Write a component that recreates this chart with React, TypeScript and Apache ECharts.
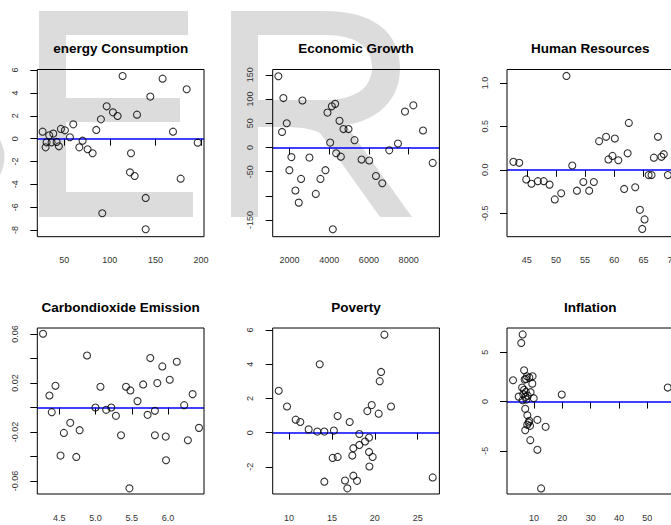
import React, { useEffect, useRef } from "react";
import * as echarts from "echarts";

// ---- data ----
const titles = ["energy Consumption", "Economic Growth", "Human Resources", "Carbondioxide Emission", "Poverty", "Inflation"];

const energyX = [26.2, 29.5, 30.6, 33.5, 36.1, 37.9, 41.6, 44.1, 46.3, 50.7, 56.2, 59.9, 66.5, 70.1, 75.6, 81.1, 85.1, 90.2, 91.7, 96.5, 103.4, 108.5, 114.0, 123.2, 122.1, 127.2, 129.8, 139.3, 139.3, 144.4, 157.9, 169.3, 177.7, 184.3, 196.4];
const energyY = [0.61, -0.76, -0.32, 0.29, -0.32, 0.44, -0.29, -0.67, 0.85, 0.73, 0.12, 1.25, -0.76, -0.18, -0.93, -1.28, 0.76, 1.69, -6.53, 2.83, 2.30, 1.98, 5.48, -1.28, -2.95, -3.27, 2.10, -5.19, -7.93, 3.68, 5.25, 0.61, -3.50, 4.32, -0.35];

const econX = [1445, 1630, 1697, 1866, 2000, 2101, 2303, 2471, 2588, 2656, 3009, 3328, 3563, 3815, 3916, 4051, 4135, 4185, 4303, 4353, 4521, 4589, 4723, 4975, 5278, 5631, 6017, 6354, 6673, 7026, 7463, 7816, 8237, 8724, 9211];
const econY = [147, 32, 102, 50, -47, -20, -89, -114, -65, 97, -21, -96, -65, -47, 72, 10, 85, -169, 90, -12, 55, -19, 38, 38, 15, -25, -27, -59, -74, -6, 8, 74, 87, 35, -32];

const hrX = [42.7, 43.7, 44.9, 45.8, 46.9, 47.9, 48.9, 49.8, 50.9, 51.8, 52.8, 53.6, 54.7, 55.7, 56.5, 57.4, 58.6, 59.0, 59.7, 60.1, 60.7, 61.7, 62.3, 62.5, 63.6, 64.4, 64.8, 65.2, 65.9, 66.4, 66.8, 67.5, 68.1, 68.5, 69.2];
const hrY = [0.092, 0.081, -0.11, -0.16, -0.13, -0.13, -0.17, -0.34, -0.27, 1.08, 0.05, -0.24, -0.14, -0.24, -0.14, 0.33, 0.38, 0.12, 0.16, 0.36, 0.11, -0.22, 0.19, 0.54, -0.20, -0.46, -0.68, -0.57, -0.06, -0.06, 0.14, 0.38, 0.15, 0.18, -0.06];

const co2X = [4.278, 4.366, 4.398, 4.449, 4.519, 4.565, 4.653, 4.736, 4.782, 4.884, 5.0, 5.069, 5.148, 5.218, 5.282, 5.352, 5.421, 5.481, 5.468, 5.579, 5.657, 5.718, 5.755, 5.819, 5.819, 5.852, 5.921, 5.968, 5.972, 6.023, 6.12, 6.222, 6.273, 6.338, 6.426];
const co2Y = [0.0601, 0.0098, -0.0038, 0.0177, -0.0392, -0.0207, -0.0125, -0.0403, -0.0185, 0.0424, 0.0, 0.0169, -0.0019, 0.0, -0.0068, -0.0226, 0.0169, 0.0139, -0.0659, 0.0052, 0.0188, -0.006, 0.0403, -0.0027, -0.0226, 0.0199, 0.0335, -0.0237, -0.043, 0.0226, 0.0373, 0.0019, -0.0267, 0.0109, -0.0166];

const povX = [8.80, 9.77, 10.78, 11.32, 12.29, 13.30, 13.58, 14.12, 14.12, 15.23, 15.09, 15.67, 15.67, 16.53, 16.80, 17.07, 17.38, 17.50, 17.50, 17.93, 18.20, 18.20, 18.86, 19.13, 19.33, 19.33, 19.37, 19.64, 19.75, 20.45, 20.57, 20.73, 21.12, 21.89, 26.75];
const povY = [2.45, 1.53, 0.76, 0.62, 0.19, 0.06, 4.0, 0.06, -2.87, 0.12, -1.48, -1.42, 0.97, -2.80, -3.26, 0.62, -1.34, -0.91, -2.52, -2.82, -0.08, -0.72, -0.52, 1.26, -0.29, -1.13, -1.98, 1.61, -1.42, 1.11, 3.01, 3.55, 5.73, 1.53, -2.62];

const infX = [2.6, 4.6, 5.5, 6.0, 5.8, 6.0, 6.5, 6.9, 6.9, 7.1, 6.7, 7.2, 7.5, 7.3, 7.65, 8.1, 8.35, 8.6, 8.35, 8.7, 8.8, 9.5, 9.4, 9.9, 11.2, 11.2, 12.5, 14.1, 19.8, 57.2, 6.2, 7.0, 6.5, 7.6, 7.8];
const infY = [2.16, 0.5, 5.95, 6.82, 1.42, 0.14, 3.18, -0.74, -2.91, 0.98, 2.23, 2.30, 2.57, 0.20, -1.39, -2.13, 2.43, -2.47, -1.96, -3.92, 0.95, 2.57, 1.82, 0.34, -1.86, -4.9, -8.82, -2.57, 0.71, 1.42, 0.74, 0.47, 1.2, -2.35, 0.6];

const xTicks = [[50, 100, 150, 200], [2000, 4000, 6000, 8000], [45, 50, 55, 60, 65, 70], [4.5, 5.0, 5.5, 6.0, 6.5], [10, 15, 20, 25], [10, 20, 30, 40, 50]];
const yTicks = [[-8, -6, -4, -2, 0, 2, 4, 6], [-150, -100, -50, 0, 50, 100, 150], [-0.5, 0, 0.5, 1.0], [-0.06, -0.04, -0.02, 0, 0.02, 0.04, 0.06], [-2, 0, 2, 4, 6], [-5, 0, 5]];
const yLabels = [[-8, -6, -4, -2, 0, 2, 4, 6], [-150, -50, 0, 50, 100, 150], [-0.5, 0, 0.5, 1.0], [-0.06, -0.02, 0.02, 0.06], [-2, 0, 2, 4, 6], [-5, 0, 5]];
const xDecimals = [0, 0, 0, 1, 0, 0];
const yDecimals = [0, 0, 1, 2, 0, 0];
const xRange = [[20.4, 203.3], [1160, 9548], [41.6, 70.2], [4.199, 6.495], [8.1, 27.53], [0.47, 59.3]];
const yRange = [[-8.58, 6.05], [-184.4, 161], [-0.769, 1.154], [-0.0705, 0.0648], [-3.59, 6.12], [-9.39, 7.47]];

const xs = [energyX, econX, hrX, co2X, povX, infX];
const ys = [energyY, econY, hrY, co2Y, povY, infY];

// ---- layout ----
const colLeft = [37.3, 272.7, 507];
const plotW = 166.7;
const rowTop = [69.5, 328];
const plotH = [167.2, 166];
const titleY = [48.3, 307];

const FONT = '"Liberation Sans", Arial, Helvetica, sans-serif';

let registered = false;
function registerShapes() {
  if (registered) return;
  registered = true;
  const rPath =
    "M231 217 L231 11 L325 11 C370 11 400 30 400 68 C400 100 378 120 346 125 L412 217 L380 217 L320 133 C312 129 300 127 285 127 L258 127 L258 217 Z " +
    "M258 35 L258 100 L325 100 C355 100 372 88 372 67 C372 46 355 35 325 35 Z";
  echarts.graphic.registerShape("wmR", echarts.graphic.extendPath(rPath, {}));
  echarts.graphic.registerShape("wmSliver", echarts.graphic.extendPath("M0 140 Q9 157 0 175 Z", {}));
}

function fmt(v: number, d: number) {
  return d > 0 ? v.toFixed(d) : String(Math.round(v));
}

export default function App() {
  const ref = useRef<HTMLDivElement>(null);
  useEffect(() => {
    if (!ref.current) return;
    registerShapes();
    const chart = echarts.init(ref.current, null, { renderer: "svg" });
    const grids: any[] = [];
    const xAxes: any[] = [];
    const yAxes: any[] = [];
    const series: any[] = [];
    const graphics: any[] = [];
    const wm = "#dcdcdc";
    graphics.push({ type: "rect", z: -10, shape: { x: 39, y: 11, width: 27, height: 206 }, style: { fill: wm } });
    graphics.push({ type: "rect", z: -10, shape: { x: 39, y: 11, width: 149, height: 24 }, style: { fill: wm } });
    graphics.push({ type: "rect", z: -10, shape: { x: 39, y: 98, width: 141, height: 24 }, style: { fill: wm } });
    graphics.push({ type: "rect", z: -10, shape: { x: 39, y: 192, width: 154, height: 25 }, style: { fill: wm } });
    graphics.push({ type: "wmR", z: -10, x: 0, y: 0, scaleX: 1, scaleY: 1, style: { fill: wm } });
    graphics.push({ type: "wmSliver", z: -10, x: 0, y: 0, scaleX: 1, scaleY: 1, style: { fill: wm } });

    for (let i = 0; i < 6; i++) {
      const r = Math.floor(i / 3);
      const c = i % 3;
      const left = colLeft[c];
      const top = rowTop[r];
      grids.push({
        left,
        top,
        width: plotW,
        height: plotH[r],
        show: false,
        containLabel: false,
      });
      graphics.push({
        type: "rect",
        z: 20,
        silent: true,
        shape: { x: left, y: top, width: plotW, height: plotH[r] },
        style: { fill: "none", stroke: "#000", lineWidth: 1 },
      });
      const xd = xDecimals[i];
      const yd = yDecimals[i];
      xAxes.push({
        type: "value",
        gridIndex: i,
        min: xRange[i][0],
        max: xRange[i][1],
        axisLine: { show: false },
        splitLine: { show: false },
        axisTick: { show: true, length: 7, lineStyle: { color: "#000", width: 1 }, customValues: xTicks[i] },
        axisLabel: {
          customValues: xTicks[i],
          margin: 19,
          fontSize: 9,
          color: "#333",
          fontFamily: FONT,
          formatter: (v: number) => fmt(v, xd),
        },
      });
      yAxes.push({
        type: "value",
        gridIndex: i,
        min: yRange[i][0],
        max: yRange[i][1],
        axisLine: { show: false },
        splitLine: { show: false },
        axisTick: { show: true, length: 7, lineStyle: { color: "#000", width: 1 }, customValues: yTicks[i] },
        axisLabel: {
          customValues: yLabels[i],
          rotate: 90,
          margin: 18,
          fontSize: 9,
          color: "#333",
          fontFamily: FONT,
          formatter: (v: number) => fmt(v, yd),
        },
      });
      series.push({
        type: "scatter",
        xAxisIndex: i,
        yAxisIndex: i,
        symbol: "circle",
        symbolSize: 7,
        itemStyle: { color: "rgba(0,0,0,0)", borderColor: "#000", borderWidth: 1.1 },
        data: xs[i].map((x, k) => [x, ys[i][k]]),
        z: 5,
        markLine: {
          silent: true,
          symbol: ["none", "none"],
          label: { show: false },
          lineStyle: { color: "#0000ff", width: 1.5, type: "solid" },
          data: [{ yAxis: 0 }],
          z: 4,
        },
      });
      graphics.push({
        type: "text",
        z: 10,
        x: left + plotW / 2,
        y: titleY[r],
        style: {
          text: titles[i],
          font: "bold 13.5px " + FONT,
          fill: "#000",
          textAlign: "center",
          textVerticalAlign: "middle",
        },
      });
    }

    chart.setOption({
      animation: false,
      backgroundColor: "#fff",
      grid: grids,
      xAxis: xAxes,
      yAxis: yAxes,
      series,
      graphic: graphics,
    });
    return () => chart.dispose();
  }, []);
  return (
    <div style={{ position: "absolute", left: 0, top: 0, width: 671, height: 525, overflow: "hidden" }}>
      <div ref={ref} style={{ position: "absolute", left: 0, top: 0, width: 700, height: 525 }} />
    </div>
  );
}
